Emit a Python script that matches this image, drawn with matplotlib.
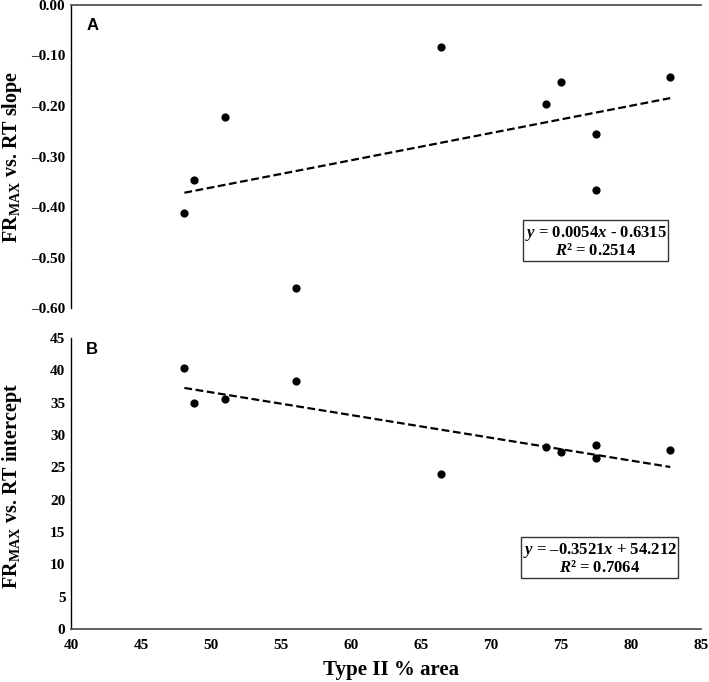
import matplotlib
matplotlib.use("Agg")
import matplotlib.pyplot as plt
import numpy as np

plt.rcParams['font.family'] = ['Liberation Serif', 'DejaVu Serif']
plt.rcParams['font.weight'] = 'bold'
plt.rcParams['mathtext.fontset'] = 'custom'
plt.rcParams['mathtext.it'] = 'Liberation Serif:italic:bold'
plt.rcParams['mathtext.rm'] = 'Liberation Serif'
plt.rcParams['mathtext.bf'] = 'Liberation Serif:bold'
plt.rcParams['axes.unicode_minus'] = True

# ---- data ----
type2_area = [48.1, 48.8, 51.0, 56.1, 66.4, 73.9, 75.0, 77.5, 77.5, 82.8]
slope_vals = [-0.412, -0.347, -0.221, -0.560, -0.083, -0.196, -0.152, -0.255, -0.366, -0.143]
intercept_vals = [40.3, 35.0, 35.6, 38.4, 24.0, 28.1, 27.3, 28.5, 26.5, 27.7]

fit_a = (0.0054, -0.6315)      # slope, intercept of trend in panel A
fit_b = (-0.3521, 54.212)      # slope, intercept of trend in panel B
eq_a = "$\\mathit{y}$ = 0.0054$\\mathit{x}$ - 0.6315\n$\\mathit{R}$\u00b2 = 0.2514"
eq_b = "$\\mathit{y}$ = \u20130.3521$\\mathit{x}$ + 54.212\n$\\mathit{R}$\u00b2 = 0.7064"

xticks = [40, 45, 50, 55, 60, 65, 70, 75, 80, 85]
yticks_a = [0.0, -0.1, -0.2, -0.3, -0.4, -0.5, -0.6]
yticks_b = [0, 5, 10, 15, 20, 25, 30, 35, 40, 45]

W, H = 709, 682
fig = plt.figure(figsize=(W / 100, H / 100), dpi=100)

def px_axes(l, t, r, b):
    return fig.add_axes([l / W, 1 - b / H, (r - l) / W, (b - t) / H])

axA = px_axes(71, 5, 701, 308)
axB = px_axes(71, 338, 701, 629)

tick_font = dict(fontsize=11, fontweight='bold')

def style(ax, spine_line):
    for s in ['right', 'top', 'bottom', 'left']:
        ax.spines[s].set_visible(False)
    ax.spines['left'].set_visible(True)
    ax.spines['left'].set_color('black')
    ax.spines['left'].set_linewidth(1.0)
    ax.spines[spine_line].set_visible(True)
    ax.spines[spine_line].set_color('#555555')
    ax.spines[spine_line].set_linewidth(1.3)
    ax.tick_params(length=0)
    ax.set_facecolor('white')

def draw(ax, y, fit):
    ax.scatter(type2_area, y, s=24, color='black', zorder=3)
    xs = np.array([min(type2_area), max(type2_area)])
    ax.plot(xs, fit[0] * xs + fit[1], color='black', lw=1.6,
            linestyle=(0, (3.5, 1.6)), zorder=2)

# Panel A
style(axA, 'top')
draw(axA, slope_vals, fit_a)
axA.set_xlim(40, 85)
axA.set_ylim(-0.6, 0.0)
axA.set_xticks(xticks)
axA.set_xticklabels([])
axA.set_yticks(yticks_a)
axA.set_yticklabels([f"{v:.2f}".replace('-', '\u2013') for v in yticks_a], **tick_font)
axA.tick_params(axis='y', pad=4)
axA.set_ylabel("FR$_{\\mathrm{MAX}}$ vs. RT slope", fontsize=14.5, fontweight='bold',
               va='center')
axA.yaxis.set_label_coords(-0.094, 0.5)
axA.text(0.024, 0.957, "A", transform=axA.transAxes, fontsize=12,
         fontweight='bold', family='Liberation Sans', va='top', ha='left')
axA.text(0.833, 0.22, eq_a, transform=axA.transAxes, fontsize=12,
         fontweight='bold', ha='center', va='center', multialignment='center',
         linespacing=1.0,
         bbox=dict(boxstyle='square,pad=0.1', fc='white', ec='#333333', lw=1.0))

# Panel B
style(axB, 'bottom')
draw(axB, intercept_vals, fit_b)
axB.set_xlim(40, 85)
axB.set_ylim(0, 45)
axB.set_xticks(xticks)
axB.set_xticklabels([str(v) for v in xticks], **tick_font)
axB.set_yticks(yticks_b)
axB.set_yticklabels([str(v) for v in yticks_b], **tick_font)
axB.tick_params(axis='y', pad=4)
axB.tick_params(axis='x', pad=7)
axB.set_ylabel("FR$_{\\mathrm{MAX}}$ vs. RT intercept", fontsize=14.5, fontweight='bold',
               va='center')
axB.yaxis.set_label_coords(-0.094, 0.49)
axB.set_xlabel("Type II % area", fontsize=15, fontweight='bold')
axB.xaxis.set_label_coords(0.508, -0.105)
axB.text(0.024, 0.986, "B", transform=axB.transAxes, fontsize=12,
         fontweight='bold', family='Liberation Sans', va='top', ha='left')
axB.text(0.839, 0.242, eq_b, transform=axB.transAxes, fontsize=12,
         fontweight='bold', ha='center', va='center', multialignment='center',
         linespacing=1.0,
         bbox=dict(boxstyle='square,pad=0.1', fc='white', ec='#333333', lw=1.0))

fig.savefig("out.png", dpi=100)
